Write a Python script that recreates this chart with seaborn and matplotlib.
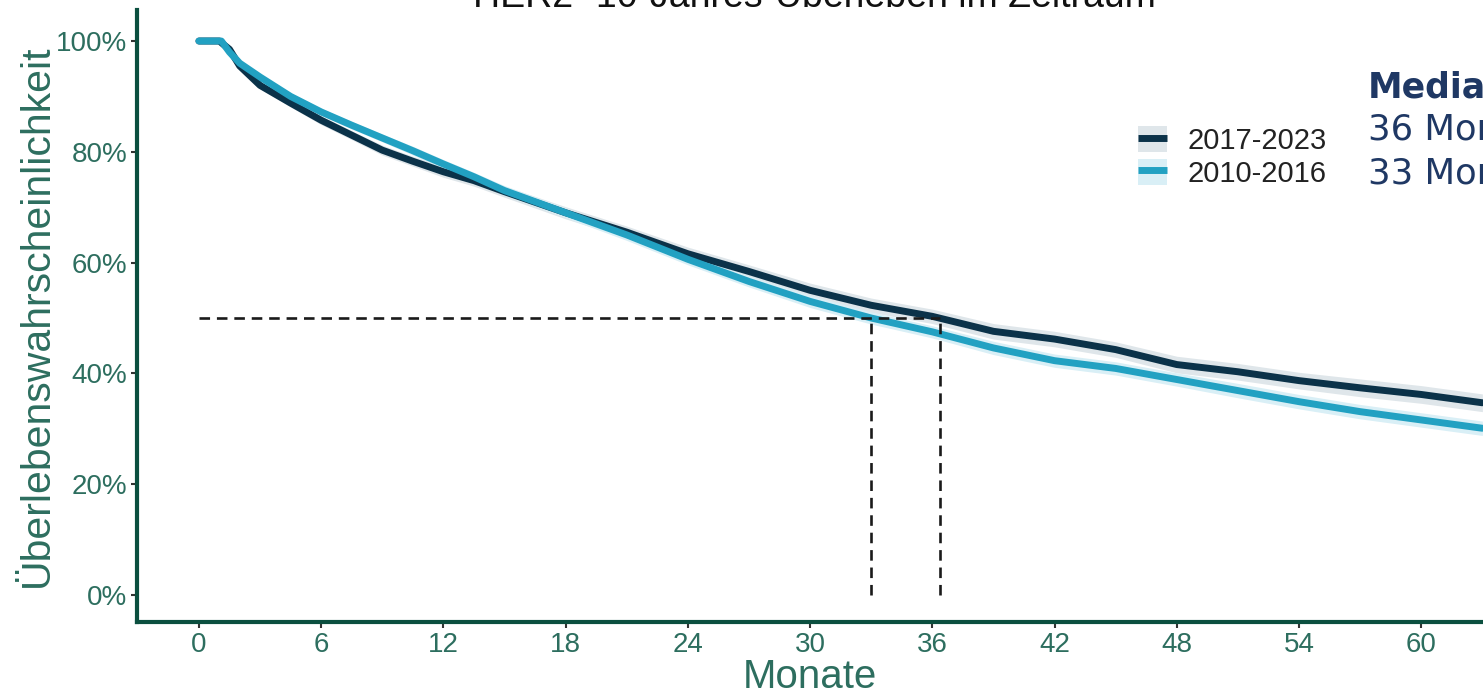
import numpy as np
import pandas as pd
import matplotlib
matplotlib.use("Agg")
import matplotlib.pyplot as plt
from matplotlib.lines import Line2D
from matplotlib.patches import Patch
from matplotlib.legend_handler import HandlerTuple
import seaborn as sns

# Kaplan-Meier estimates (survival in %) for both diagnosis periods
months_recent = [0, 1.0, 1.5, 2.0, 3.0, 4.5, 6, 7.5, 9, 10.5, 12, 13.5, 15, 18, 21, 24,
                 27, 30, 33, 36, 39, 42, 45, 48, 51, 54, 57, 60, 63]
surv_recent = [100, 100, 98.5, 95.5, 92.0, 88.8, 85.7, 83.0, 80.3, 78.3, 76.4, 74.8, 72.8,
               69.0, 65.5, 61.6, 58.4, 55.0, 52.3, 50.3, 47.6, 46.2, 44.3, 41.6, 40.3,
               38.7, 37.4, 36.2, 34.7]
ci_recent = [0, 0, 0.3, 0.5, 0.6, 0.7, 0.8, 0.8, 0.9, 0.9, 1.0, 1.0, 1.0, 1.1, 1.1, 1.2,
             1.2, 1.3, 1.3, 1.3, 1.4, 1.4, 1.4, 1.5, 1.5, 1.5, 1.6, 1.6, 1.6]

months_early = [0, 1.1, 1.5, 2.0, 3.0, 4.5, 6, 7.5, 9, 10.5, 12, 13.5, 15, 18, 21, 24,
                27, 30, 33, 36, 39, 42, 45, 48, 51, 54, 57, 60, 63]
surv_early = [100, 100, 98.0, 96.0, 93.5, 90.0, 87.2, 84.8, 82.5, 80.2, 77.8, 75.5, 73.0,
              69.0, 65.0, 60.6, 56.6, 53.0, 50.0, 47.5, 44.6, 42.3, 40.9, 38.9, 36.9,
              34.9, 33.1, 31.6, 30.1]
ci_early = [0, 0, 0.3, 0.4, 0.5, 0.6, 0.6, 0.7, 0.7, 0.8, 0.8, 0.8, 0.9, 0.9, 1.0, 1.0,
            1.0, 1.1, 1.1, 1.1, 1.2, 1.2, 1.2, 1.2, 1.3, 1.3, 1.3, 1.3, 1.3]

periods = ["2017-2023", "2010-2016"]
medians = [36.4, 33.0]
median_texts = ["36 Monate", "33 Monate"]
x_ticks = [0, 6, 12, 18, 24, 30, 36, 42, 48, 54, 60]
y_ticks = [0, 20, 40, 60, 80, 100]

line_colors = {"2017-2023": "#0b3249", "2010-2016": "#22a1c2"}
band_colors = {"2017-2023": "#dfe6ea", "2010-2016": "#d9eff6"}
axis_green = "#0b4f3f"
label_green = "#2d6e5f"
navy = "#1f3864"
LW = 5.0

df = pd.concat([
    pd.DataFrame({"Monate": months_recent, "Survival": surv_recent,
                  "CI": ci_recent, "Zeitraum": periods[0]}),
    pd.DataFrame({"Monate": months_early, "Survival": surv_early,
                  "CI": ci_early, "Zeitraum": periods[1]}),
])

sns.set_theme(style="white")
plt.rcParams["font.family"] = ["Liberation Sans", "DejaVu Sans"]

fig = plt.figure(figsize=(14.83, 6.95), dpi=100)
W, H = 1483, 695
ax = fig.add_axes([137 / W, 1 - 622 / H, (W - 137) / W, (622 - 10) / H])

# confidence bands
for p in periods:
    sub = df[df["Zeitraum"] == p]
    ax.fill_between(sub["Monate"], sub["Survival"] - sub["CI"], sub["Survival"] + sub["CI"],
                    color=band_colors[p], lw=0, zorder=1)

# recent period first, earlier period drawn on top
sns.lineplot(data=df, x="Monate", y="Survival", hue="Zeitraum", hue_order=periods,
             palette=line_colors, linewidth=LW, estimator=None, errorbar=None,
             legend=False, ax=ax, zorder=3)

# median survival guides
dash = dict(color="#1a1a1a", lw=1.9, ls=(0, (4, 2.6)), zorder=4)
ax.plot([0, max(medians)], [50, 50], **dash)
for m in medians:
    ax.plot([m, m], [0, 50], **dash)

ax.set_xlim(-3.04, 63.03)
ax.set_ylim(-4.87, 105.6)
ax.set_xticks(x_ticks)
ax.set_xticklabels([str(t) for t in x_ticks])
ax.set_yticks(y_ticks)
ax.set_yticklabels([f"{t}%" for t in y_ticks])

for side in ["top", "right"]:
    ax.spines[side].set_visible(False)
for side in ["left", "bottom"]:
    ax.spines[side].set_color(axis_green)
    ax.spines[side].set_linewidth(3.0)
ax.tick_params(axis="both", which="major", direction="out", length=4, width=1.5,
               color="#333333", labelcolor=label_green, labelsize=20, pad=3,
               left=True, bottom=True)

ax.set_xlabel("Monate", fontsize=29, color=label_green, labelpad=0.5)
ax.set_ylabel("Überlebenswahrscheinlichkeit", fontsize=29.5, color=label_green, labelpad=0)

# legend with band + line keys
handles = [(Patch(facecolor=band_colors[p], edgecolor="none"),
            Line2D([], [], color=line_colors[p], lw=LW, solid_capstyle="butt"))
           for p in periods]
leg = fig.legend(handles, periods, handler_map={tuple: HandlerTuple(ndivide=1, pad=0)},
                 loc="center left", bbox_to_anchor=(1138 / W, 1 - 157 / H),
                 frameon=False, fontsize=21, handlelength=1.0, handleheight=1.0,
                 handletextpad=0.7, labelspacing=0.12, borderpad=0, borderaxespad=0)
for t in leg.get_texts():
    t.set_color("#222222")

# median annotation block
fig.text(1368 / W, 1 - 97 / H, "Median", fontsize=25, fontweight="bold", color=navy,
         family="DejaVu Sans", va="baseline", ha="left")
for i, txt in enumerate(median_texts):
    fig.text(1368 / W, 1 - (140 + 44 * i) / H, txt, fontsize=25.5, color=navy,
             family="DejaVu Sans", va="baseline", ha="left")

# chart title
fig.text(814 / W, 1 - 7 / H, "HER2- 10-Jahres-Überleben im Zeitraum", fontsize=27,
         color="#111111", va="baseline", ha="center")

fig.savefig("out.png", dpi=100)
